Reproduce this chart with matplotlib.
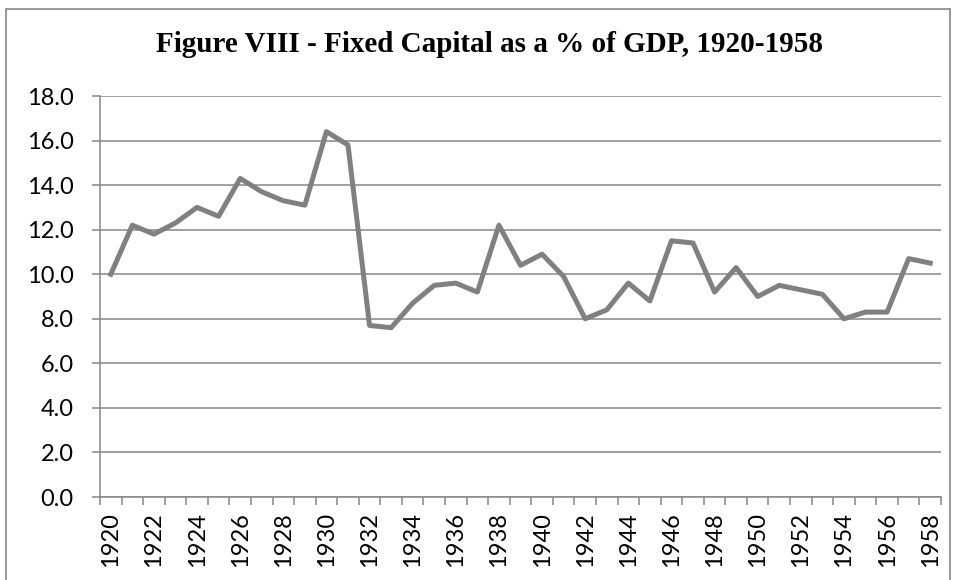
import numpy as np
import matplotlib.pyplot as plt
from matplotlib.patches import Rectangle

years = list(range(1920, 1959))
fixed_capital = [10.0, 12.2, 11.8, 12.3, 13.0, 12.6, 14.3, 13.7, 13.3, 13.1,
                 16.4, 15.8, 7.7, 7.6, 8.7, 9.5, 9.6, 9.2, 12.2, 10.4,
                 10.9, 9.9, 8.0, 8.4, 9.6, 8.8, 11.5, 11.4, 9.2, 10.3,
                 9.0, 9.5, 9.3, 9.1, 8.0, 8.3, 8.3, 10.7, 10.5]
y_ticks = [0, 2, 4, 6, 8, 10, 12, 14, 16, 18]

grey = '#868686'
fig = plt.figure(figsize=(9.57, 5.80), dpi=100)
# chart border, bottom edge runs off the image like in the original
fig.patches.append(Rectangle((6 / 957, -10 / 580), 944 / 957, 581 / 580,
                             transform=fig.transFigure, fill=False,
                             edgecolor=grey, linewidth=1.2))

ax = fig.add_axes([100 / 957, 1 - 497 / 580, 841 / 957, 401 / 580])
x = np.arange(len(years))
ax.plot(x, fixed_capital, color='#808080', linewidth=3.6,
        solid_joinstyle='round', zorder=3)

ax.set_xlim(-0.5, len(years) - 0.5)
ax.set_ylim(0, 18)
ax.set_yticks(y_ticks)
ax.set_yticklabels([f'{v:.1f}' for v in y_ticks], fontsize=17, family='Lato')
ax.grid(axis='y', color=grey, linewidth=1.1)
ax.set_axisbelow(True)

ax.set_xticks(x[::2])
ax.set_xticklabels([str(y) for y in years[::2]], rotation=90,
                   fontsize=17, family='Lato')
ax.set_xticks(np.arange(-0.5, len(years)), minor=True)
ax.tick_params(axis='x', which='major', length=0, pad=11)
ax.tick_params(axis='x', which='minor', length=6, width=1.1, color=grey,
               direction='out')
ax.tick_params(axis='y', length=6, width=1.1, color=grey, pad=13)

for side in ['top', 'right']:
    ax.spines[side].set_visible(False)
for side in ['left', 'bottom']:
    ax.spines[side].set_color(grey)
    ax.spines[side].set_linewidth(1.1)

fig.text(490 / 957, 1 - 45 / 580, 'Figure VIII - Fixed Capital as a % of GDP, 1920-1958',
         ha='center', va='center', fontsize=21, fontweight='bold',
         family='Liberation Serif')

fig.savefig('out.png', dpi=100)
